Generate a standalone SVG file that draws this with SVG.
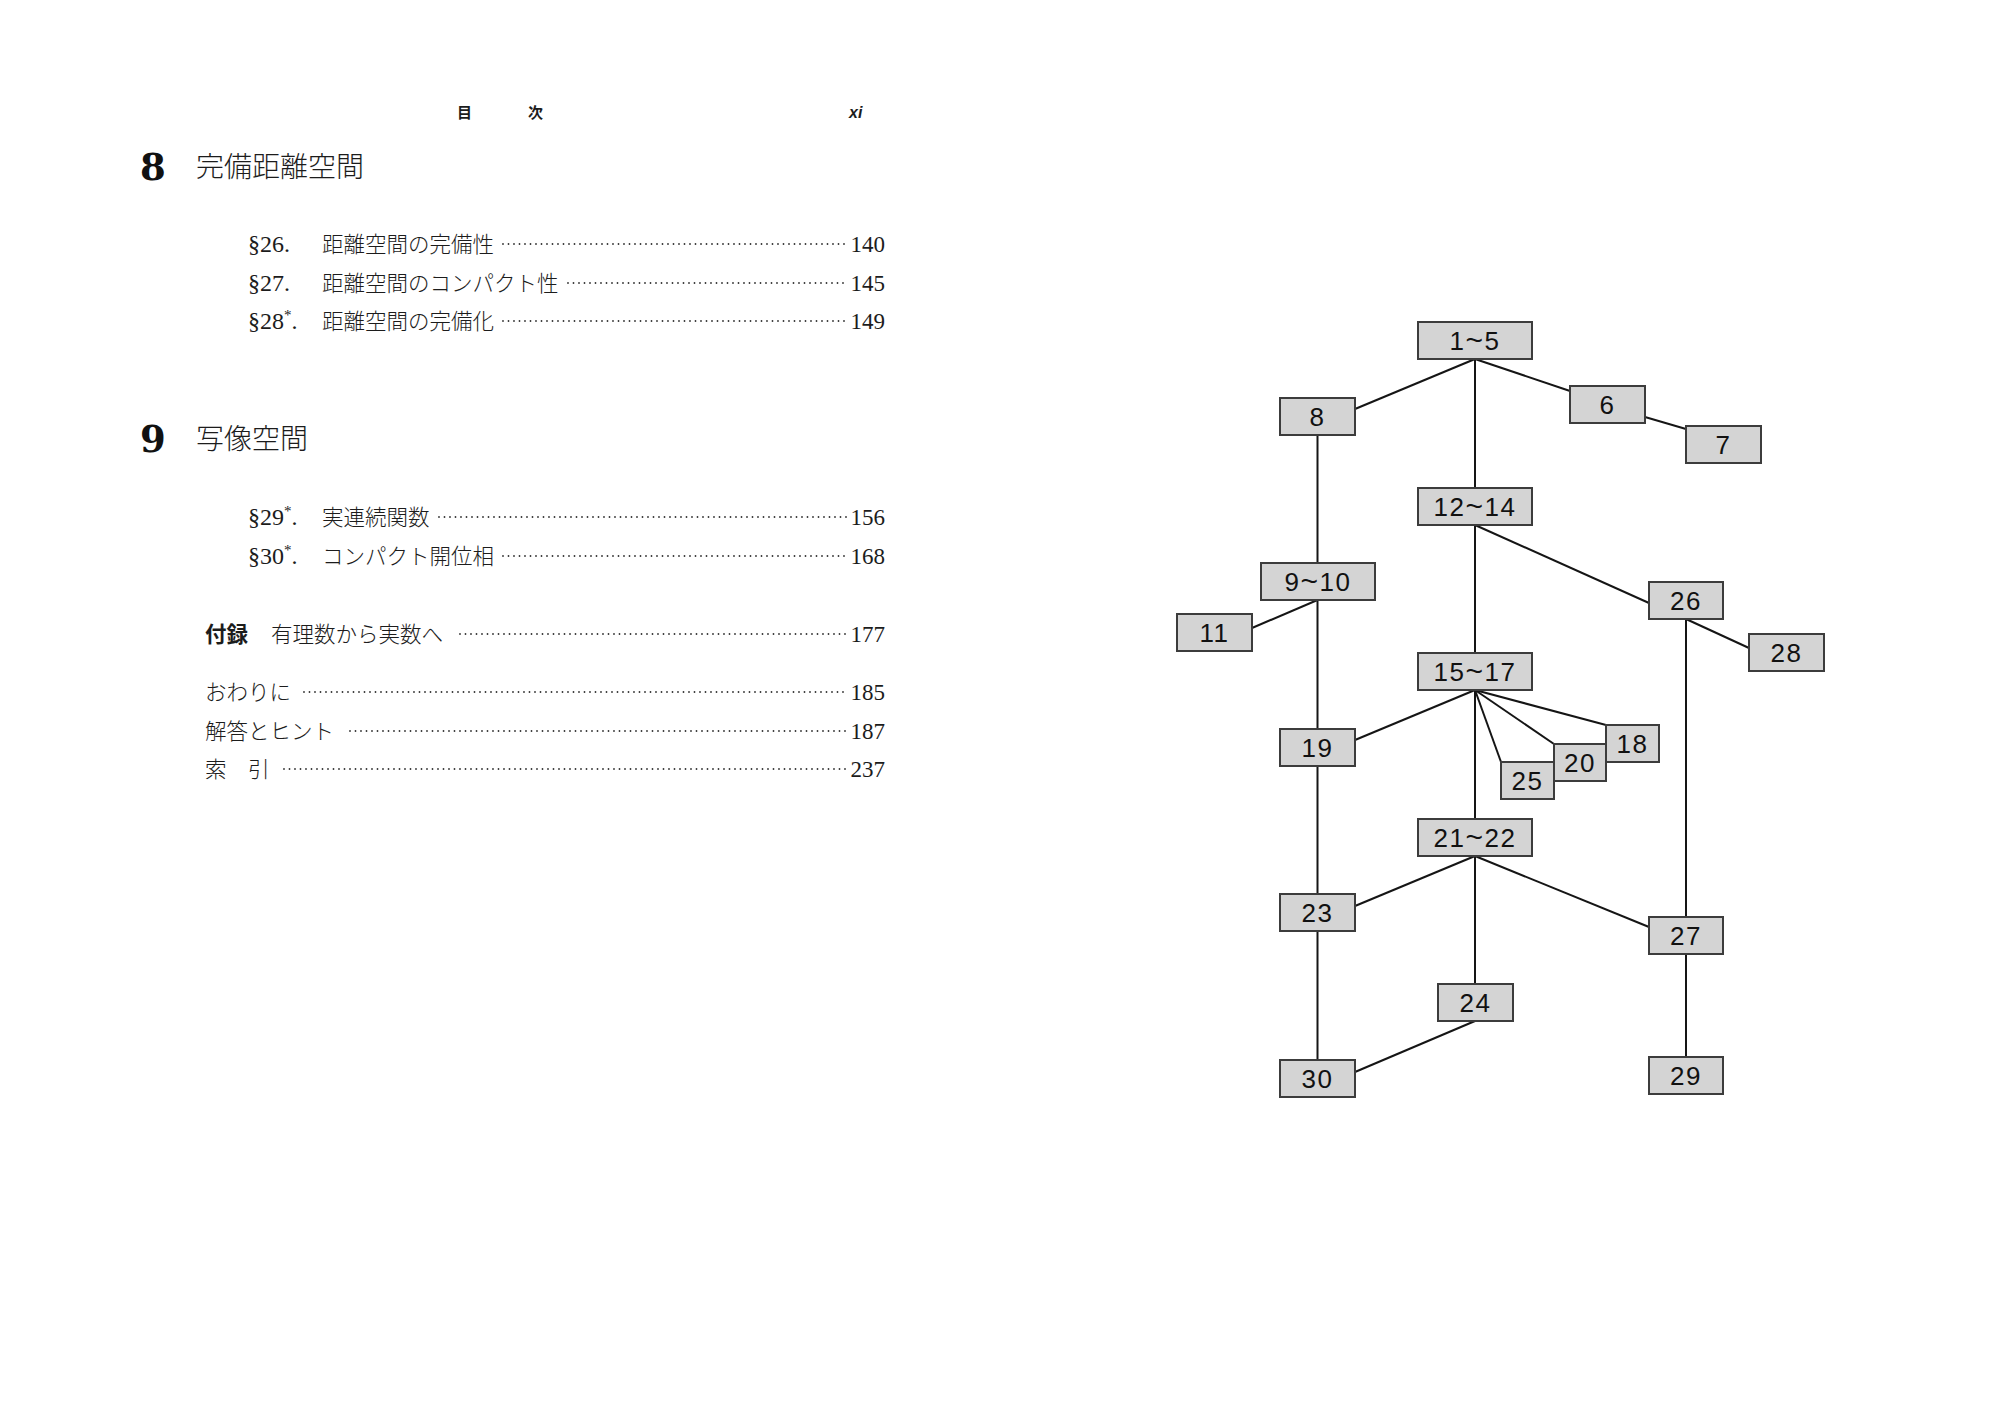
<svg xmlns="http://www.w3.org/2000/svg" width="2000" height="1419" viewBox="0 0 2000 1419">
<style>
.jp{font-family:"Noto Sans CJK JP","Noto Sans CJK SC",sans-serif;font-weight:300;fill:#1c1c1c}
.jb{font-family:"Noto Sans CJK JP","Noto Sans CJK SC",sans-serif;font-weight:700;fill:#1c1c1c}
.sec{font-family:"Liberation Serif","Noto Sans CJK JP",serif;font-size:24px;fill:#1c1c1c}
.pg{font-family:"Liberation Serif",serif;font-size:23px;fill:#1c1c1c;text-anchor:end}
.ttl{font-size:21.5px}
.big{font-size:28px}
.chn{font-family:"DejaVu Serif",serif;font-weight:bold;font-size:37px;fill:#111}
.lead{stroke:#333;stroke-width:1.8;stroke-linecap:round;stroke-dasharray:0 5.5;fill:none}
.box{fill:#d4d4d4;stroke:#3c3c3c;stroke-width:2}
.lbl{font-family:"Liberation Sans",Arial,sans-serif;font-size:26px;letter-spacing:1.5px;fill:#111;text-anchor:middle}
.tl{font-size:30px}
.edge{stroke:#151515;stroke-width:2;fill:none}
</style>
<rect width="2000" height="1419" fill="#ffffff"/>

<g id="page">
  <text class="jb" x="457" y="118" font-size="15">目</text>
  <text class="jb" x="528" y="118" font-size="15">次</text>
  <text x="849" y="118" font-family="Liberation Sans,sans-serif" font-size="16" font-weight="bold" font-style="italic" fill="#1c1c1c">xi</text>

  <text class="chn" x="140" y="180">8</text>
  <text class="jp big" x="196" y="177">完備距離空間</text>

  <text class="sec" x="248" y="252">§26.</text>
  <text class="jp ttl" x="322" y="252">距離空間の完備性</text>
  <line class="lead" x1="503" y1="244" x2="847" y2="244"/>
  <text class="pg" x="885" y="252">140</text>

  <text class="sec" x="248" y="291">§27.</text>
  <text class="jp ttl" x="322" y="291">距離空間のコンパクト性</text>
  <line class="lead" x1="568" y1="283" x2="847" y2="283"/>
  <text class="pg" x="885" y="291">145</text>

  <text class="sec" x="248" y="329">§28<tspan font-size="15" dy="-9">*</tspan><tspan dy="9">.</tspan></text>
  <text class="jp ttl" x="322" y="329">距離空間の完備化</text>
  <line class="lead" x1="503" y1="321" x2="847" y2="321"/>
  <text class="pg" x="885" y="329">149</text>

  <text class="chn" x="140" y="452">9</text>
  <text class="jp big" x="196" y="449">写像空間</text>

  <text class="sec" x="248" y="525">§29<tspan font-size="15" dy="-9">*</tspan><tspan dy="9">.</tspan></text>
  <text class="jp ttl" x="322" y="525">実連続関数</text>
  <line class="lead" x1="439" y1="517" x2="847" y2="517"/>
  <text class="pg" x="885" y="525">156</text>

  <text class="sec" x="248" y="564">§30<tspan font-size="15" dy="-9">*</tspan><tspan dy="9">.</tspan></text>
  <text class="jp ttl" x="322" y="564">コンパクト開位相</text>
  <line class="lead" x1="503" y1="556" x2="847" y2="556"/>
  <text class="pg" x="885" y="564">168</text>

  <text class="jb ttl" x="205" y="642">付録</text>
  <text class="jp ttl" x="271" y="642">有理数から実数へ</text>
  <line class="lead" x1="460" y1="634" x2="847" y2="634"/>
  <text class="pg" x="885" y="642">177</text>

  <text class="jp ttl" x="205" y="700">おわりに</text>
  <line class="lead" x1="304" y1="692" x2="847" y2="692"/>
  <text class="pg" x="885" y="700">185</text>

  <text class="jp ttl" x="205" y="739">解答とヒント</text>
  <line class="lead" x1="350" y1="731" x2="847" y2="731"/>
  <text class="pg" x="885" y="739">187</text>

  <text class="jp ttl" x="205" y="777">索　引</text>
  <line class="lead" x1="284" y1="769" x2="847" y2="769"/>
  <text class="pg" x="885" y="777">237</text>
</g>

<g id="connectors">
  <line class="edge" x1="1475" y1="359" x2="1355" y2="409"/>
  <line class="edge" x1="1475" y1="359" x2="1570" y2="391"/>
  <line class="edge" x1="1475" y1="359" x2="1475" y2="488"/>
  <line class="edge" x1="1645" y1="417" x2="1686" y2="429"/>
  <line class="edge" x1="1317.5" y1="435" x2="1317.5" y2="563"/>
  <line class="edge" x1="1317.5" y1="600" x2="1252" y2="628"/>
  <line class="edge" x1="1317.5" y1="600" x2="1317.5" y2="729"/>
  <line class="edge" x1="1475" y1="525" x2="1649" y2="603"/>
  <line class="edge" x1="1475" y1="525" x2="1475" y2="653"/>
  <line class="edge" x1="1686" y1="619" x2="1749" y2="648"/>
  <line class="edge" x1="1686" y1="619" x2="1686" y2="917"/>
  <line class="edge" x1="1475" y1="690" x2="1355" y2="740"/>
  <line class="edge" x1="1475" y1="690" x2="1501" y2="762"/>
  <line class="edge" x1="1475" y1="690" x2="1554" y2="744"/>
  <line class="edge" x1="1475" y1="690" x2="1606" y2="725"/>
  <line class="edge" x1="1475" y1="690" x2="1475" y2="819"/>
  <line class="edge" x1="1475" y1="856" x2="1355" y2="906"/>
  <line class="edge" x1="1475" y1="856" x2="1475" y2="984"/>
  <line class="edge" x1="1475" y1="856" x2="1649" y2="927"/>
  <line class="edge" x1="1317.5" y1="766" x2="1317.5" y2="894"/>
  <line class="edge" x1="1317.5" y1="931" x2="1317.5" y2="1060"/>
  <line class="edge" x1="1475" y1="1021" x2="1355" y2="1072"/>
  <line class="edge" x1="1686" y1="954" x2="1686" y2="1057"/>
</g>

<g id="n1_5"><rect class="box" x="1418" y="322" width="114" height="37"/><text class="lbl" x="1475" y="350">1<tspan class="tl">~</tspan>5</text></g>
<g id="n8"><rect class="box" x="1280" y="398" width="75" height="37"/><text class="lbl" x="1317.5" y="426">8</text></g>
<g id="n6"><rect class="box" x="1570" y="386" width="75" height="37"/><text class="lbl" x="1607.5" y="414">6</text></g>
<g id="n7"><rect class="box" x="1686" y="426" width="75" height="37"/><text class="lbl" x="1723.5" y="454">7</text></g>
<g id="n12_14"><rect class="box" x="1418" y="488" width="114" height="37"/><text class="lbl" x="1475" y="516">12<tspan class="tl">~</tspan>14</text></g>
<g id="n9_10"><rect class="box" x="1261" y="563" width="114" height="37"/><text class="lbl" x="1318" y="591">9<tspan class="tl">~</tspan>10</text></g>
<g id="n11"><rect class="box" x="1177" y="614" width="75" height="37"/><text class="lbl" x="1214.5" y="642">11</text></g>
<g id="n26"><rect class="box" x="1649" y="582" width="74" height="37"/><text class="lbl" x="1686" y="610">26</text></g>
<g id="n28"><rect class="box" x="1749" y="634" width="75" height="37"/><text class="lbl" x="1786.5" y="662">28</text></g>
<g id="n15_17"><rect class="box" x="1418" y="653" width="114" height="37"/><text class="lbl" x="1475" y="681">15<tspan class="tl">~</tspan>17</text></g>
<g id="n19"><rect class="box" x="1280" y="729" width="75" height="37"/><text class="lbl" x="1317.5" y="757">19</text></g>
<g id="n18"><rect class="box" x="1606" y="725" width="53" height="37"/><text class="lbl" x="1632.5" y="753">18</text></g>
<g id="n20"><rect class="box" x="1554" y="744" width="52" height="37"/><text class="lbl" x="1580" y="772">20</text></g>
<g id="n25"><rect class="box" x="1501" y="762" width="53" height="37"/><text class="lbl" x="1527.5" y="790">25</text></g>
<g id="n21_22"><rect class="box" x="1418" y="819" width="114" height="37"/><text class="lbl" x="1475" y="847">21<tspan class="tl">~</tspan>22</text></g>
<g id="n23"><rect class="box" x="1280" y="894" width="75" height="37"/><text class="lbl" x="1317.5" y="922">23</text></g>
<g id="n27"><rect class="box" x="1649" y="917" width="74" height="37"/><text class="lbl" x="1686" y="945">27</text></g>
<g id="n24"><rect class="box" x="1438" y="984" width="75" height="37"/><text class="lbl" x="1475.5" y="1012">24</text></g>
<g id="n30"><rect class="box" x="1280" y="1060" width="75" height="37"/><text class="lbl" x="1317.5" y="1088">30</text></g>
<g id="n29"><rect class="box" x="1649" y="1057" width="74" height="37"/><text class="lbl" x="1686" y="1085">29</text></g>
</svg>
